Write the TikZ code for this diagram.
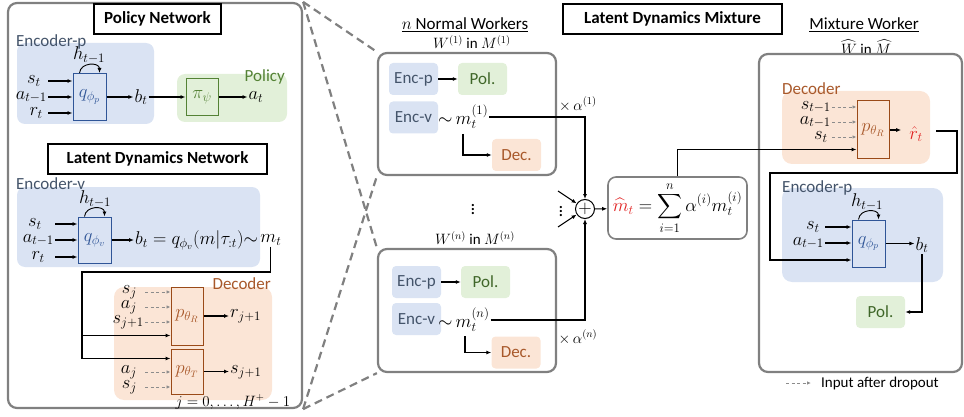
\RequirePackage{fix-cm}
\documentclass[tikz,border=0pt]{standalone}
\usepackage{exscale}
\usepackage{fontspec}
\setmainfont{Carlito}
\usetikzlibrary{arrows.meta}
\definecolor{bluebg}{HTML}{DAE3F3}
\definecolor{greenbg}{HTML}{E2F0D9}
\definecolor{orangebg}{HTML}{FBE5D6}
\definecolor{slate}{HTML}{44546A}
\definecolor{qblue}{HTML}{2F5597}
\definecolor{pgreen}{HTML}{3F6628}
\definecolor{pigreen}{HTML}{548235}
\definecolor{pbrown}{HTML}{9A4A18}
\definecolor{decbrown}{HTML}{A8582A}
\definecolor{frame}{HTML}{808080}
\definecolor{dropgray}{HTML}{8C8C8C}
\definecolor{hired}{HTML}{E02020}

\tikzset{
  txt/.style={font=\fontsize{17}{20}\selectfont},
  heading/.style={draw, line width=1.3pt, inner sep=0pt, font=\bfseries\fontsize{17}{20}\selectfont},
  panel/.style={draw=frame, line width=2.2pt, rounded corners=9pt, inner sep=0pt},
  qbox/.style={draw=qblue, fill=bluebg, line width=1pt, inner sep=0pt, text=qblue, minimum width=33pt},
  pbox/.style={draw=pbrown, fill=orangebg, line width=1pt, inner sep=0pt, text=decbrown, minimum width=32pt},
  pibox/.style={draw=pigreen, fill=greenbg, line width=1pt, inner sep=0pt, text=pigreen, minimum width=32pt},
  encblk/.style={txt, fill=bluebg, rounded corners=4pt, text=slate, minimum width=49pt, minimum height=32pt, inner sep=0pt},
  polblk/.style={encblk, fill=greenbg, text=pgreen},
  decblk/.style={encblk, fill=orangebg, text=decbrown},
  flow/.style={line width=1.1pt, -{Latex[length=5pt,width=4pt]}},
  dropin/.style={draw=dropgray, line width=0.9pt, dash pattern=on 3pt off 2.5pt, -{Latex[length=4pt,width=3.5pt]}},
  zoomln/.style={draw=frame, line width=2.2pt, dash pattern=on 8pt off 5pt},
  lbl/.style={inner sep=1pt},
  hlbl/.style={anchor=south, inner sep=0pt},
  small/.style={inner sep=1pt, font=\fontsize{15}{18}\selectfont},
}

\begin{document}
\begin{tikzpicture}[x=1pt, y=-1pt, font=\fontsize{18.5}{22}\selectfont]
\useasboundingbox (0,0) rectangle (964,417);

% left panel
\node[panel, minimum width=294pt, minimum height=405pt] (panel) at (155,205.5) {};

% policy network
\node[heading, minimum width=127pt, minimum height=30pt] (polnet) at (157.5,19) {Policy Network};
\fill[bluebg, rounded corners=8pt] (17,43) rectangle (154,124);
\node[txt, anchor=west, text=slate, inner sep=1pt] (encp) at (15,42) {Encoder-p};
\fill[greenbg, rounded corners=8pt] (177,74) rectangle (287,122);
\node[txt, anchor=east, text=pigreen, inner sep=1pt] (polp) at (286,77) {Policy};
\node[qbox, minimum height=47pt] (qp) at (89.5,97) {$q_{\phi_p}$};
\node[hlbl] (hp) at (89,64) {$h_{t-1}$};
\draw[flow, line width=0.9pt] ([xshift=-10pt]qp.north) .. controls +(1,-11) and +(0,-11) .. ([xshift=10pt]qp.north);
\node[lbl, anchor=east] (sp) at (42,81) {$s_t$};
\node[lbl, anchor=east] (ap) at (48,97) {$a_{t-1}$};
\node[lbl, anchor=east] (rp) at (44,113) {$r_t$};
\foreach \inp in {sp,ap,rp}
  \draw[flow] (\inp -| ap.east) -- (\inp -| qp.west);
\node[lbl] (bp) at (141,97) {$b_t$};
\draw[flow] (qp) -- (bp);
\node[pibox, minimum height=37pt] (pi) at (202,97) {$\pi_\psi$};
\draw[flow] (bp) -- (pi);
\node[lbl] (atp) at (256,97) {$a_t$};
\draw[flow] (pi) -- (atp);

% latent dynamics network
\node[heading, minimum width=219pt, minimum height=30pt] (ldnet) at (157.5,159) {Latent Dynamics Network};
\fill[bluebg, rounded corners=8pt] (17,187) rectangle (260,267);
\node[txt, anchor=west, text=slate, inner sep=1pt] (encv) at (15,184) {Encoder-v};
\node[qbox, minimum height=46pt] (qv) at (94.5,240) {$q_{\phi_v}$};
\node[hlbl] (hv) at (95,208) {$h_{t-1}$};
\draw[flow, line width=0.9pt] ([xshift=-10pt]qv.north) .. controls +(1,-11) and +(0,-11) .. ([xshift=10pt]qv.north);
\node[lbl, anchor=east] (sv) at (43,224) {$s_t$};
\node[lbl, anchor=east] (av) at (55,240) {$a_{t-1}$};
\node[lbl, anchor=east] (rv) at (46,257) {$r_t$};
\foreach \inp in {sv,av,rv}
  \draw[flow] (\inp -| av.east) -- (\inp -| qv.west);
\node[lbl, anchor=west] (bv) at (134,240) {$b_t = q_{\phi_v}(m|\tau_{:t}){\sim}$};
\node[anchor=west, inner sep=1pt] (mv) at (bv.east) {$m_t$};
\draw[flow] (qv) -- (bv);

% decoder
\fill[orangebg, rounded corners=10pt] (114,287) rectangle (272,400);
\node[txt, anchor=east, text=decbrown, inner sep=1pt] (decl) at (272,284) {Decoder};
\node[pbox, minimum height=58pt] (pR) at (187,316) {$p_{\theta_R}$};
\node[pbox, minimum height=45pt] (pT) at (187,371.5) {$p_{\theta_T}$};
\node[lbl, anchor=east] (sj) at (138,292) {$s_j$};
\node[lbl, anchor=east] (aj) at (138,307) {$a_j$};
\node[lbl, anchor=east] (sjn) at (145,322) {$s_{j+1}$};
\foreach \inp in {sj,aj,sjn}
  \draw[dropin] (\inp -| sjn.east) -- (\inp -| pR.west);
\node[lbl, anchor=west] (rj) at (229,316) {$r_{j+1}$};
\draw[flow] (pR) -- (rj);
\node[lbl, anchor=east] (aj2) at (138,372) {$a_j$};
\node[lbl, anchor=east] (sj2) at (138,387) {$s_j$};
\foreach \inp in {aj2,sj2}
  \draw[dropin] (\inp -| sjn.east) -- (\inp -| pT.west);
\node[lbl, anchor=west] (sjo) at (229,372) {$s_{j+1}$};
\draw[flow] (pT.east) -- (pT.east -| sjo.west);
\node[small] (jrng) at (233,402) {$j = 0, \ldots, H^{+}-1$};

\coordinate (tap) at (82,272);
\draw[flow] (mv.south) |- (tap) |- ([yshift=10pt]pR.south west);
\draw[flow] (tap) |- ([yshift=-10pt]pT.north west);

% normal workers
\node[txt, inner sep=1pt] (nwt) at (465,25) {\underline{$n$ Normal Workers}};
\node[panel, minimum width=178pt, minimum height=122pt] (w1) at (467,114) {};
\node[small] (w1t) at (472,42) {$W^{(1)}$ in $M^{(1)}$};
\node[encblk] (ep1) at (413.5,79) {Enc-p};
\node[polblk] (po1) at (482.5,79) {Pol.};
\draw[flow] (ep1) -- (po1);
\node[encblk] (ev1) at (413.5,117.5) {Enc-v};
\node[lbl, anchor=west] (m1) at (437,117) {${\sim}\,m_t^{(1)}$};
\node[decblk] (de1) at (516.5,155) {Dec.};
\coordinate (m1d) at (463,134);
\draw[flow] (m1d) |- (de1);
\node[small] (al1) at (578,104) {$\times\,\alpha^{(1)}$};

\node[lbl] (vd1) at (473,207) {$\vdots$};

\node[small] (wnt) at (475,238) {$W^{(n)}$ in $M^{(n)}$};
\node[panel, minimum width=178pt, minimum height=123pt] (wn) at (467,310.5) {};
\node[encblk] (epn) at (416.5,282) {Enc-p};
\node[polblk] (pon) at (485.5,282) {Pol.};
\draw[flow] (epn) -- (pon);
\node[encblk] (evn) at (416.5,319) {Enc-v};
\node[lbl, anchor=west] (mn) at (437,320) {${\sim}\,m_t^{(n)}$};
\node[decblk] (den) at (516,352.5) {Dec.};
\coordinate (mnd) at (465,336);
\draw[flow] (mnd) |- (den);
\node[small] (aln) at (578,337) {$\times\,\alpha^{(n)}$};

% zoom lines
\draw[zoomln] (panel.north east) -- (w1.north west);
\draw[zoomln] (panel.north east) -- (wn.north west);
\draw[zoomln] (panel.south east) -- (w1.south west);
\draw[zoomln] (panel.south east) -- (wn.south west);

% mixture
\node[heading, minimum width=219pt, minimum height=30pt] (ldm) at (672.5,19) {Latent Dynamics Mixture};
\node[draw, circle, line width=1pt, minimum size=19pt, inner sep=0pt] (sum) at (585,209) {$+$};
\node[lbl] (vd2) at (561,209) {$\vdots$};
\coordinate (in1) at (558,191);
\coordinate (in2) at (558,227);
\draw[flow] (in1) -- (sum);
\draw[flow] (in2) -- (sum);
\draw[flow] (m1.east) -| (sum.north);
\draw[flow] (mn.east) -| (sum.south);
\node[panel, line width=1.6pt, rounded corners=8pt, minimum width=139pt, minimum height=62pt] (mix) at (677.5,208)
  {$\color{hired}\widehat{m}_t\color{black} = \displaystyle\sum_{i=1}^{n} \alpha^{(i)} m_t^{(i)}$};
\draw[flow] (sum) -- (mix);

% mixture worker
\node[txt, inner sep=1pt] (mwt) at (864,25) {\underline{Mixture Worker}};
\node[small] (mwt2) at (866,47) {$\widehat{W}$ in $\widehat{M}$};
\node[panel, minimum width=203pt, minimum height=318pt] (mw) at (860.5,213) {};

\fill[orangebg, rounded corners=10pt] (782,91) rectangle (930,164);
\node[txt, anchor=west, text=decbrown, inner sep=1pt] (decm) at (781,89) {Decoder};
\node[pbox, minimum height=58pt] (pRm) at (873,130) {$p_{\theta_R}$};
\node[lbl, anchor=east] (sm1) at (832,107) {$s_{t-1}$};
\node[lbl, anchor=east] (am1) at (832,122) {$a_{t-1}$};
\node[lbl, anchor=east] (sm2) at (829,137) {$s_t$};
\foreach \inp in {sm1,am1,sm2}
  \draw[dropin] (\inp -| am1.east) -- (\inp -| pRm.west);
\node[lbl, text=hired] (rh) at (916,134) {$\hat{r}_t$};
\draw[flow, shorten >=7pt] (pRm.east) -- (pRm.east -| rh.west);
\draw[flow] (mix.north) |- ([yshift=10pt]pRm.south west);

\fill[bluebg, rounded corners=10pt] (782,188) rectangle (943,282);
\node[txt, anchor=west, text=slate, inner sep=1pt] (encm) at (781,188) {Encoder-p};
\node[qbox, minimum height=47pt] (qm) at (868.5,243.5) {$q_{\phi_p}$};
\node[hlbl] (hm) at (867,211) {$h_{t-1}$};
\draw[flow, line width=0.9pt] ([xshift=-10pt]qm.north) .. controls +(1,-11) and +(0,-11) .. ([xshift=10pt]qm.north);
\node[lbl, anchor=east] (sm) at (821,227) {$s_t$};
\node[lbl, anchor=east] (am) at (825,243) {$a_{t-1}$};
\foreach \inp in {sm,am}
  \draw[flow] (\inp -| am.east) -- (\inp -| qm.west);
\node[lbl] (bm) at (922,245) {$b_t$};
\draw[flow] (qm.east) -- (qm.east -| bm.west);
\node[polblk] (pm) at (880.5,312) {Pol.};
\draw[flow] (bm.south) |- (pm);

\coordinate (fb0) at (936,131);
\coordinate (fb1) at (957,173);
\coordinate (fb2) at (770,260);
\draw[flow] (fb0) -| (fb1) -| (fb2) -- (fb2 -| qm.west);

% legend
\coordinate (lg) at (786,383);
\node[small, anchor=west] (lgt) at (820,383) {Input after dropout};
\draw[dropin] (lg) -- ([xshift=-9pt]lgt.west);
\end{tikzpicture}
\end{document}
